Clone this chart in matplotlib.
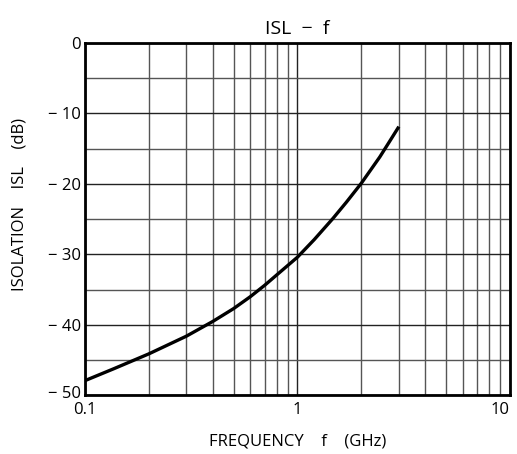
import numpy as np
import matplotlib.pyplot as plt
from matplotlib.ticker import FixedLocator, NullFormatter
from matplotlib.transforms import ScaledTranslation

# curve
freq = [0.1, 0.137, 0.2, 0.3, 0.4, 0.5, 0.6, 0.7, 0.8, 1.0, 1.2, 1.47, 1.7, 2.0, 2.44, 2.7, 3.0]
isl = [-47.9, -46.2, -44.1, -41.6, -39.5, -37.7, -36.0, -34.4, -32.9, -30.4, -27.9,
       -24.9, -22.6, -19.9, -16.2, -14.1, -11.9]

yticks = [0, -10, -20, -30, -40, -50]
ytick_labels = ['0', '\u2212 10', '\u2212 20', '\u2212 30', '\u2212 40', '\u2212 50']
xticks = [0.1, 1, 10]
xtick_labels = ['0.1', '1', '10']

plt.rcParams['font.family'] = ['Open Sans', 'DejaVu Sans']

fig = plt.figure(figsize=(5.17, 4.54), dpi=100)
ax = fig.add_axes([0.1644, 0.129, 0.822, 0.777])

ax.set_xscale('log')
ax.set_xlim(0.1, 10)
ax.set_ylim(-50, 0)

# grid: decades + minor log lines, 5 dB steps
minor_x = [m * d for d in (0.1, 1) for m in range(2, 10)]
ax.xaxis.set_major_locator(FixedLocator(xticks))
ax.xaxis.set_minor_locator(FixedLocator(minor_x))
ax.xaxis.set_minor_formatter(NullFormatter())
ax.set_xticklabels(xtick_labels)
ax.set_yticks(yticks)
ax.set_yticklabels(ytick_labels)
ax.set_yticks(np.arange(-45, 0, 10), minor=True)

ax.grid(which='major', color='#222222', linewidth=1.0)
ax.grid(which='minor', color='#555555', linewidth=1.0)
ax.tick_params(which='both', length=0, labelsize=12, pad=3)
ax.tick_params(axis='x', pad=5)
# keep the "10" inside the figure, lift "-50" a little off the "0.1"
ax.get_xticklabels()[-1].set_horizontalalignment('right')
lab50 = ax.get_yticklabels()[-1]
lab50.set_transform(lab50.get_transform() + ScaledTranslation(0, 3 / 100, fig.dpi_scale_trans))

for s in ax.spines.values():
    s.set_linewidth(2.0)
    s.set_color('black')

ax.plot(freq, isl, color='black', linewidth=2.4, solid_capstyle='butt', solid_joinstyle='round')

ax.set_title('ISL  \u2212  f', fontsize=14, pad=6)
ax.set_xlabel('FREQUENCY    f    (GHz)', fontsize=12, labelpad=11)
ax.set_ylabel('ISOLATION    ISL    (dB)', fontsize=12)
ax.yaxis.set_label_coords(-0.136, 0.54)

fig.savefig('out.png', dpi=100)
